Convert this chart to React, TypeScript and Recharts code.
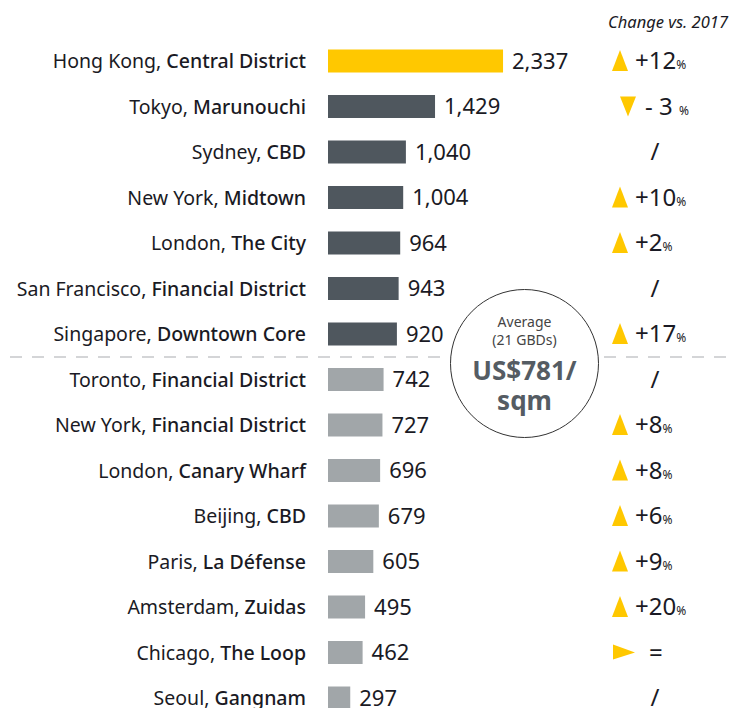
import React from 'react';
import { BarChart, Bar, XAxis, YAxis, Cell, LabelList, ReferenceLine } from 'recharts';

const cities = ['Hong Kong', 'Tokyo', 'Sydney', 'New York', 'London', 'San Francisco', 'Singapore', 'Toronto', 'New York', 'London', 'Beijing', 'Paris', 'Amsterdam', 'Chicago', 'Seoul'];
const districts = ['Central District', 'Marunouchi', 'CBD', 'Midtown', 'The City', 'Financial District', 'Downtown Core', 'Financial District', 'Financial District', 'Canary Wharf', 'CBD', 'La Défense', 'Zuidas', 'The Loop', 'Gangnam'];
const rents = [2337, 1429, 1040, 1004, 964, 943, 920, 742, 727, 696, 679, 605, 495, 462, 297];
const changeDir = ['up', 'down', 'none', 'up', 'up', 'none', 'up', 'none', 'up', 'up', 'up', 'up', 'up', 'flat', 'none'];
const changeText = ['+12', '- 3 ', '/', '+10', '+2', '/', '+17', '/', '+8', '+8', '+6', '+9', '+20', '=', '/'];

const YELLOW = '#ffc800';
const DARK = '#4f575e';
const LIGHT = '#a1a6a9';
const INK = '#1a1a24';
const FONT = '"Noto Sans", sans-serif';

const data = cities.map((c, i) => ({ key: `${i}`, city: c, district: districts[i], rent: rents[i], change: changeText[i] }));

const CityTick = (props: any) => {
  const { x, y, payload } = props;
  const row = data[Number(payload.value)];
  return (
    <text x={x} y={y} dy="0.35em" textAnchor="end" fontFamily={FONT} fontSize={19.5} fill={INK}>
      <tspan>{row.city}, </tspan>
      <tspan fontWeight={500}>{row.district}</tspan>
    </text>
  );
};

const ChangeLabel = (props: any) => {
  const { y, height, index, value } = props;
  const cy = y + height / 2;
  const dir = changeDir[index];
  const tx = 612;
  let mark = null;
  if (dir === 'up') mark = <polygon points={`${tx},${cy + 10} ${tx + 16},${cy + 10} ${tx + 8},${cy - 11}`} fill={YELLOW} />;
  if (dir === 'down') mark = <polygon points={`${tx + 8},${cy - 10} ${tx + 24},${cy - 10} ${tx + 16},${cy + 10}`} fill={YELLOW} />;
  if (dir === 'flat') mark = <polygon points={`${tx + 1},${cy - 8} ${tx + 1},${cy + 7} ${tx + 23},${cy}`} fill={YELLOW} />;
  if (dir === 'none') {
    return (
      <text x={655} y={cy} dy="0.35em" textAnchor="middle" fontFamily={FONT} fontSize={24} fill={INK}>{value}</text>
    );
  }
  return (
    <g>
      {mark}
      <text x={dir === 'flat' ? 649 : dir === 'down' ? 645 : 635} y={cy} dy="0.35em" fontFamily={FONT} fontSize={24} fill={INK}>
        <tspan>{value}</tspan>
        {dir !== 'flat' && <tspan fontSize={12}>%</tspan>}
      </text>
    </g>
  );
};

const DashedDivider = (props: any) => (
  <line x1={10} x2={730} y1={props.y1} y2={props.y1} stroke="#c6c8ca" strokeWidth={1.5} strokeDasharray="12 10" />
);

export default function App() {
  return (
    <div style={{ position: 'absolute', left: 0, top: 0, width: 730, height: 708, overflow: 'hidden', background: '#fff' }}>
      <div style={{ position: 'absolute', right: 2, top: 10, fontFamily: FONT, fontStyle: 'italic', fontSize: 16.5, color: INK }}>
        Change vs. 2017
      </div>
      <BarChart width={730} height={721} data={data} layout="vertical" margin={{ top: 38.5, right: 27.5, bottom: 0, left: 0 }}>
        <XAxis type="number" domain={[0, 5000]} hide />
        <YAxis type="category" dataKey="key" width={328} axisLine={false} tickLine={false} tickSize={6} tickMargin={16} tick={<CityTick />} interval={0} />
        <ReferenceLine y="6" position="end" shape={<DashedDivider />} ifOverflow="visible" />
        <Bar dataKey="rent" barSize={23} isAnimationActive={false}>
          {data.map((d, i) => (
            <Cell key={d.key} fill={i === 0 ? YELLOW : i < 7 ? DARK : LIGHT} />
          ))}
          <LabelList dataKey="rent" position="right" offset={9} fill={INK} fontFamily={FONT} fontSize={22} formatter={(v: any) => Number(v).toLocaleString('en-US')} />
          <LabelList dataKey="change" content={<ChangeLabel />} />
        </Bar>
      </BarChart>
      <div style={{ position: 'absolute', left: 450, top: 289, width: 149, height: 149, borderRadius: '50%', border: '1.2px solid #333', background: '#fff', fontFamily: FONT, textAlign: 'center', color: '#555c63', boxSizing: 'border-box' }}>
        <div style={{ marginTop: 23, fontSize: 14, lineHeight: '18px', color: '#444' }}>Average<br />(21 GBDs)</div>
        <div style={{ marginTop: 6, fontSize: 26, fontWeight: 700, lineHeight: '30px' }}>US$781/<br />sqm</div>
      </div>
    </div>
  );
}
